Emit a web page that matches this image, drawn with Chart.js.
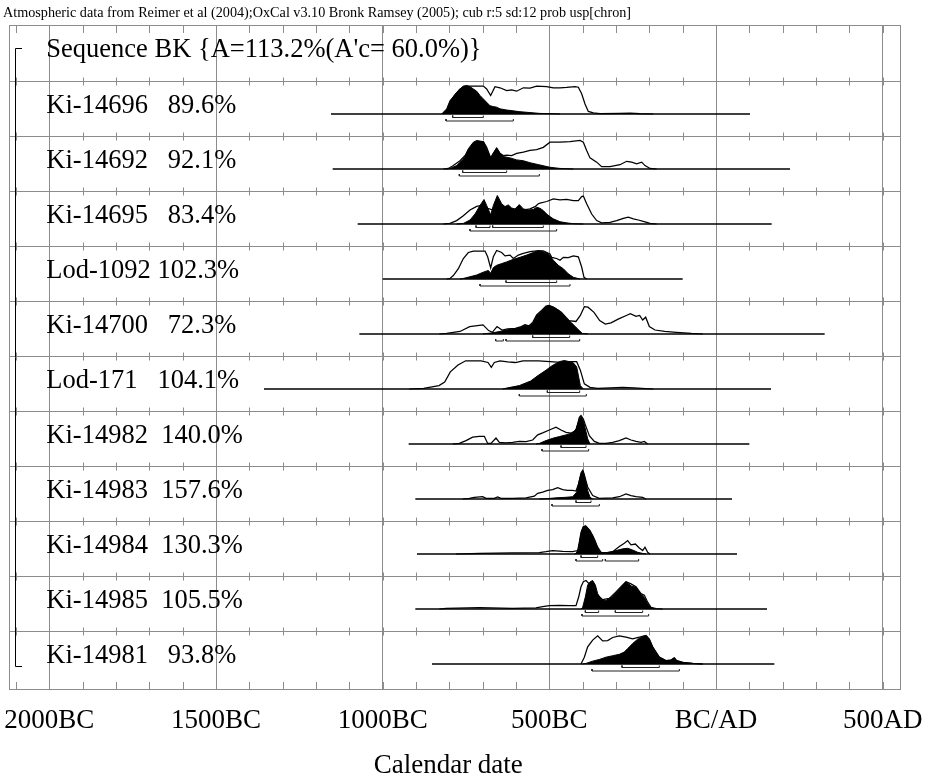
<!DOCTYPE html>
<html>
<head>
<meta charset="utf-8">
<script src="https://cdn.jsdelivr.net/npm/chart.js@4.4.1/dist/chart.umd.min.js"></script>
<style>
  html, body { margin: 0; padding: 0; background: #fff; }
</style>
</head>
<body>
<canvas id="chart" width="929" height="783"></canvas>
<script>
// OxCal multiplot: Sequence BK, calibrated (outline) vs modelled (filled) dates

const headerText = 'Atmospheric data from Reimer et al (2004);OxCal v3.10 Bronk Ramsey (2005); cub r:5 sd:12 prob usp[chron]';
const sequenceLabel = "Sequence BK {A=113.2%(A'c= 60.0%)}";
const sampleLabels = [
  'Ki-14696   89.6%', 'Ki-14692   92.1%', 'Ki-14695   83.4%', 'Lod-1092 102.3%',
  'Ki-14700   72.3%', 'Lod-171   104.1%', 'Ki-14982  140.0%', 'Ki-14983  157.6%',
  'Ki-14984  130.3%', 'Ki-14985  105.5%', 'Ki-14981   93.8%'
];

// horizontal span of each row's axis line (calendar years, BC negative)
const spanStart = [-1155, -1150, -1075, -1000, -1070, -1356, -922, -902, -897, -902, -852];
const spanEnd = [102, 222, 167, -100, 326, 165, 100, 48, 63, 153, 175];

// axis labels
const tickYears = [-2000, -1500, -1000, -500, 0, 500];
const tickLabels = ['2000BC', '1500BC', '1000BC', '500BC', 'BC/AD', '500AD'];

// unmodelled (outline) distributions: [year, relative probability]
const prior14696 = [[-818,0],[-803,0.18],[-788,0.59],[-768,0.88],[-748,0.98],[-698,0.98],[-688,0.88],[-676,0.65],[-663,0.96],[-648,0.92],[-628,0.82],[-613,0.85],[-598,0.80],[-578,0.92],[-558,0.91],[-538,0.98],[-508,0.96],[-488,0.92],[-468,0.92],[-448,0.93],[-423,0.96],[-413,0.94],[-403,0.71],[-393,0.35],[-383,0.09],[-368,0.04],[-348,0.01],[-288,0.02],[-258,0.03],[-228,0.01],[-188,0]];
const prior14692 = [[-818,0],[-803,0.02],[-788,0.12],[-768,0.29],[-748,0.53],[-728,0.86],[-718,0.96],[-698,0.96],[-688,0.76],[-676,0.39],[-668,0.55],[-658,0.73],[-648,0.55],[-638,0.47],[-628,0.49],[-613,0.47],[-598,0.55],[-578,0.59],[-558,0.65],[-538,0.68],[-518,0.76],[-498,0.94],[-468,0.94],[-438,0.96],[-408,1.0],[-398,0.94],[-388,0.65],[-378,0.39],[-358,0.24],[-343,0.08],[-318,0.08],[-288,0.15],[-268,0.27],[-253,0.24],[-238,0.18],[-223,0.24],[-213,0.12],[-198,0.02],[-178,0]];
const prior14695 = [[-818,0],[-798,0.02],[-778,0.12],[-758,0.29],[-738,0.49],[-718,0.62],[-703,0.65],[-688,0.56],[-668,0.49],[-628,0.47],[-588,0.47],[-558,0.53],[-543,0.61],[-533,0.71],[-528,0.73],[-508,0.79],[-488,0.88],[-468,0.85],[-448,0.86],[-428,0.82],[-413,0.82],[-403,0.96],[-398,0.98],[-388,0.71],[-373,0.35],[-358,0.12],[-343,0.04],[-318,0.06],[-298,0.12],[-278,0.20],[-263,0.24],[-248,0.18],[-233,0.14],[-218,0.09],[-208,0.06],[-198,0.02],[-178,0]];
const prior1092 = [[-808,0],[-798,0.02],[-788,0.12],[-773,0.36],[-758,0.72],[-743,0.93],[-728,0.98],[-693,0.98],[-685,0.78],[-676,0.39],[-668,0.78],[-658,1.0],[-643,0.93],[-633,0.81],[-618,0.84],[-608,0.72],[-593,0.84],[-578,0.90],[-558,0.96],[-538,0.99],[-518,0.99],[-498,0.88],[-493,0.76],[-478,0.72],[-468,0.66],[-458,0.76],[-443,0.75],[-428,0.81],[-413,0.78],[-403,0.42],[-396,0.06],[-388,0]];
const prior14700 = [[-830,0],[-808,0.02],[-768,0.09],[-739,0.26],[-699,0.32],[-682,0.12],[-671,0.06],[-657,0.26],[-642,0.14],[-625,0.18],[-602,0.20],[-584,0.26],[-573,0.33],[-561,0.29],[-550,0.40],[-538,0.67],[-521,0.85],[-510,0.98],[-501,1.0],[-487,0.94],[-464,0.76],[-441,0.47],[-420,0.44],[-407,0.65],[-395,0.96],[-384,0.94],[-366,0.76],[-349,0.47],[-332,0.35],[-315,0.39],[-292,0.53],[-269,0.65],[-257,0.71],[-240,0.62],[-229,0.65],[-220,0.49],[-211,0.59],[-200,0.26],[-183,0.14],[-154,0.09],[-119,0.06],[-74,0.02],[-39,0]];
const prior171 = [[-920,0],[-877,0.02],[-831,0.12],[-814,0.24],[-797,0.60],[-774,0.84],[-751,0.99],[-705,0.99],[-684,0.93],[-674,0.76],[-665,0.93],[-648,0.99],[-625,0.95],[-602,0.93],[-579,0.99],[-533,0.99],[-498,0.96],[-464,0.93],[-447,0.96],[-418,0.96],[-407,0.66],[-395,0.18],[-378,0.06],[-355,0.02],[-280,0.06],[-246,0.04],[-188,0]];
const prior14982 = [[-790,0],[-770,0.02],[-750,0.12],[-730,0.24],[-710,0.27],[-695,0.27],[-685,0.02],[-675,0.02],[-660,0.21],[-650,0.06],[-630,0.04],[-610,0.06],[-590,0.09],[-570,0.08],[-550,0.14],[-535,0.32],[-520,0.39],[-500,0.49],[-480,0.59],[-465,0.49],[-450,0.41],[-435,0.38],[-420,0.47],[-410,0.94],[-405,1.0],[-398,0.88],[-390,0.61],[-380,0.29],[-365,0.09],[-350,0.02],[-330,0.02],[-310,0.06],[-290,0.12],[-270,0.21],[-255,0.14],[-240,0.09],[-225,0.06],[-215,0.09],[-205,0]];
const prior14983 = [[-760,0],[-740,0.02],[-725,0.06],[-700,0.08],[-690,0.02],[-665,0.02],[-655,0.07],[-645,0.02],[-610,0.02],[-570,0.04],[-545,0.10],[-535,0.20],[-520,0.24],[-505,0.30],[-490,0.33],[-475,0.40],[-460,0.33],[-445,0.30],[-430,0.30],[-420,0.28],[-412,0.54],[-405,0.90],[-400,1.0],[-395,0.84],[-385,0.42],[-370,0.12],[-350,0.02],[-310,0.04],[-290,0.08],[-270,0.18],[-255,0.12],[-240,0.08],[-220,0.06],[-210,0]];
const prior14984 = [[-780,0],[-710,0.02],[-610,0.04],[-530,0.05],[-510,0.08],[-490,0.12],[-460,0.09],[-430,0.08],[-415,0.12],[-410,0.41],[-405,0.76],[-398,0.96],[-390,0.98],[-378,0.82],[-365,0.53],[-355,0.24],[-345,0.06],[-330,0.04],[-310,0.08],[-290,0.26],[-275,0.38],[-265,0.47],[-255,0.32],[-242,0.35],[-230,0.21],[-220,0.12],[-213,0.24],[-205,0.06],[-198,0]];
const prior14985 = [[-830,0],[-810,0.02],[-710,0.05],[-610,0.02],[-540,0.04],[-520,0.08],[-500,0.12],[-470,0.13],[-440,0.12],[-420,0.12],[-412,0.42],[-405,0.78],[-398,0.96],[-390,1.0],[-382,0.90],[-375,0.66],[-360,0.54],[-340,0.33],[-320,0.37],[-300,0.60],[-280,0.84],[-270,0.96],[-255,0.88],[-240,0.78],[-225,0.54],[-215,0.48],[-205,0.24],[-195,0.06],[-180,0.01],[-160,0]];
const prior14981 = [[-405,0],[-395,0.24],[-385,0.60],[-370,0.84],[-355,0.99],[-340,0.81],[-325,0.82],[-310,0.93],[-290,0.99],[-270,0.94],[-250,0.88],[-230,0.94],[-215,0.99],[-210,1.0],[-200,0.87],[-190,0.60],[-180,0.42],[-170,0.24],[-150,0.12],[-135,0.14],[-125,0.22],[-118,0.12],[-100,0.06],[-70,0.02],[-40,0]];

// modelled (filled) distributions: [year, relative probability]
const post14696 = [[-823,0],[-808,0.18],[-798,0.47],[-788,0.61],[-778,0.76],[-768,0.88],[-758,0.98],[-748,1.0],[-738,0.96],[-728,0.88],[-718,0.80],[-708,0.65],[-698,0.53],[-688,0.41],[-678,0.29],[-668,0.26],[-658,0.24],[-648,0.18],[-628,0.14],[-608,0.11],[-588,0.08],[-558,0.05],[-528,0.02],[-488,0.01],[-468,0]];
const post14692 = [[-808,0],[-798,0.02],[-778,0.12],[-758,0.35],[-743,0.71],[-728,0.94],[-718,1.0],[-708,0.98],[-698,0.96],[-688,0.71],[-676,0.39],[-666,0.59],[-658,0.74],[-648,0.55],[-638,0.44],[-618,0.39],[-598,0.32],[-578,0.29],[-558,0.22],[-528,0.14],[-498,0.06],[-468,0.02],[-428,0]];
const post14695 = [[-778,0],[-758,0.02],[-738,0.14],[-723,0.35],[-708,0.65],[-696,0.86],[-688,0.65],[-676,0.32],[-668,0.65],[-656,1.0],[-643,0.71],[-633,0.61],[-623,0.67],[-613,0.56],[-603,0.53],[-590,0.68],[-578,0.53],[-563,0.49],[-548,0.51],[-538,0.59],[-528,0.55],[-518,0.47],[-508,0.35],[-498,0.26],[-488,0.18],[-468,0.08],[-448,0.04],[-428,0.01],[-398,0]];
const post1092 = [[-768,0],[-758,0.02],[-738,0.08],[-718,0.14],[-698,0.24],[-683,0.30],[-676,0.20],[-668,0.40],[-658,0.48],[-643,0.54],[-628,0.60],[-608,0.69],[-588,0.76],[-568,0.84],[-548,0.93],[-533,1.0],[-518,0.96],[-503,0.88],[-488,0.66],[-473,0.48],[-458,0.36],[-443,0.18],[-428,0.06],[-408,0]];
const post14700 = [[-700,0],[-693,0.01],[-671,0.04],[-648,0.09],[-625,0.15],[-602,0.18],[-584,0.24],[-573,0.31],[-561,0.26],[-550,0.38],[-538,0.65],[-521,0.82],[-510,0.96],[-501,1.0],[-487,0.94],[-470,0.82],[-452,0.59],[-435,0.41],[-418,0.21],[-401,0.02],[-384,0]];
const post171 = [[-640,0],[-625,0.04],[-590,0.12],[-556,0.28],[-533,0.48],[-510,0.66],[-493,0.81],[-470,0.96],[-455,1.0],[-429,0.93],[-418,0.78],[-412,0.42],[-407,0.12],[-398,0]];
const post14982 = [[-540,0],[-530,0.02],[-510,0.12],[-490,0.20],[-470,0.26],[-450,0.32],[-430,0.39],[-420,0.53],[-410,0.88],[-405,0.98],[-398,0.82],[-392,0.53],[-385,0.18],[-378,0]];
const post14983 = [[-530,0],[-510,0.01],[-480,0.04],[-450,0.06],[-430,0.08],[-418,0.24],[-410,0.66],[-403,0.96],[-398,0.99],[-392,0.66],[-385,0.30],[-378,0.06],[-370,0]];
const post14984 = [[-425,0],[-420,0.02],[-413,0.18],[-407,0.59],[-400,0.92],[-392,1.0],[-382,0.88],[-370,0.65],[-360,0.35],[-350,0.09],[-340,0.04],[-320,0.06],[-300,0.12],[-280,0.18],[-265,0.20],[-250,0.14],[-235,0.06],[-220,0.02],[-210,0]];
const post14985 = [[-405,0],[-400,0.06],[-392,0.42],[-385,0.84],[-377,0.96],[-370,1.0],[-362,0.84],[-355,0.54],[-345,0.33],[-330,0.30],[-310,0.45],[-290,0.69],[-270,0.96],[-255,0.81],[-240,0.76],[-225,0.52],[-215,0.40],[-205,0.18],[-195,0.04],[-185,0]];
const post14981 = [[-400,0],[-390,0.02],[-370,0.10],[-350,0.16],[-330,0.24],[-310,0.29],[-290,0.34],[-275,0.42],[-265,0.54],[-250,0.72],[-235,0.87],[-220,0.96],[-210,1.0],[-200,0.87],[-190,0.60],[-180,0.42],[-170,0.24],[-150,0.12],[-135,0.14],[-125,0.22],[-118,0.12],[-100,0.06],[-70,0.02],[-40,0]];

// highest posterior density ranges
const range68 = [
  [[-790, -698]], [[-760, -628]], [[-720, -678], [-670, -518]], [[-630, -478]],
  [[-550, -439]], [[-506, -409]], [[-465, -390]], [[-420, -375]],
  [[-405, -355]], [[-392, -352], [-302, -220]], [[-282, -170]]
];
const range95 = [
  [[-810, -608]], [[-770, -530]], [[-738, -478]], [[-708, -438]],
  [[-661, -638], [-630, -409]], [[-590, -389]], [[-522, -382]], [[-492, -350]],
  [[-420, -340], [-332, -232]], [[-402, -202]], [[-372, -110]]
];

const priors = [prior14696, prior14692, prior14695, prior1092, prior14700, prior171, prior14982, prior14983, prior14984, prior14985, prior14981];
const posts = [post14696, post14692, post14695, post1092, post14700, post171, post14982, post14983, post14984, post14985, post14981];

// layout in pixels (y axis counts pixels down from the top of the frame)
const titleRowH = 56, rowH = 55, baseOffset = 33, peakH = 28.5;
const frameH = 665;
const gridGrey = '#8c8c8c';
const serif = '"Liberation Serif", "Times New Roman", serif';

const rowBase = i => titleRowH + rowH * i + baseOffset;
const toPoints = (arr, base) => arr.map(([yr, p]) => ({ x: yr, y: base - p * peakH }));

const datasets = [];
sampleLabels.forEach((_, i) => {
  const base = rowBase(i);
  datasets.push({
    data: toPoints(posts[i], base),
    borderColor: '#000', borderWidth: 1, backgroundColor: '#000',
    fill: { value: base }
  });
  datasets.push({
    data: toPoints(priors[i], base),
    borderColor: '#000', borderWidth: 1.25, fill: false
  });
  datasets.push({
    data: [{ x: spanStart[i], y: base }, { x: spanEnd[i], y: base }],
    borderColor: '#000', borderWidth: 1.6, fill: false
  });
  [[range68[i], 3.5], [range95[i], 7]].forEach(([ranges, drop]) => {
    ranges.forEach(([a, b]) => {
      datasets.push({
        data: [{ x: a, y: base + drop - 2 }, { x: a, y: base + drop }, { x: b, y: base + drop }, { x: b, y: base + drop - 2 }],
        borderColor: '#222', borderWidth: 1, fill: false
      });
    });
  });
});

const oxcalFrame = {
  id: 'oxcalFrame',
  beforeDatasetsDraw(chart) {
    const { ctx, chartArea: a, scales: { x, y } } = chart;
    ctx.save();
    ctx.strokeStyle = gridGrey;
    ctx.lineWidth = 1;
    const minorXs = [];
    for (let yr = -2100; yr <= 500; yr += 100) minorXs.push(Math.round(x.getPixelForValue(yr)) + 0.5);
    ctx.beginPath();
    // row separators with century ticks
    for (let i = 0; i <= sampleLabels.length - 1; i++) {
      const py = Math.round(y.getPixelForValue(titleRowH + rowH * i)) + 0.5;
      ctx.moveTo(a.left, py); ctx.lineTo(a.right, py);
      minorXs.forEach(px => { ctx.moveTo(px, py - 4); ctx.lineTo(px, py + 4); });
    }
    // ticks hanging from the top and standing on the bottom
    minorXs.forEach(px => {
      ctx.moveTo(px, a.top); ctx.lineTo(px, a.top + 8);
      ctx.moveTo(px, a.bottom); ctx.lineTo(px, a.bottom - 8);
    });
    ctx.stroke();
    ctx.strokeRect(a.left + 0.5, a.top + 0.5, a.right - a.left - 1, a.bottom - a.top - 1);
    ctx.restore();
  },
  afterDatasetsDraw(chart) {
    const { ctx, chartArea: a, scales: { x, y } } = chart;
    ctx.save();
    ctx.fillStyle = '#000';
    ctx.textBaseline = 'alphabetic';
    const textX = x.getPixelForValue(-2000) - 3;
    ctx.font = '26.5px ' + serif;
    ctx.fillText(sequenceLabel, textX, y.getPixelForValue(baseOffset - 1));
    sampleLabels.forEach((lab, i) => {
      ctx.fillText(lab, textX, y.getPixelForValue(rowBase(i) - 1));
    });
    // sequence bracket
    ctx.strokeStyle = '#000';
    ctx.lineWidth = 1;
    const bx = a.left + 6.5, top = y.getPixelForValue(23) + 0.5, bottom = y.getPixelForValue(rowBase(sampleLabels.length - 1) + 2) + 0.5;
    ctx.beginPath();
    ctx.moveTo(a.left + 13, top); ctx.lineTo(bx, top); ctx.lineTo(bx, bottom); ctx.lineTo(a.left + 13, bottom);
    ctx.stroke();
    // header line above the frame
    ctx.font = '14.2px ' + serif;
    ctx.fillText(headerText, 3, 17);
    ctx.restore();
  }
};

new Chart(document.getElementById('chart'), {
  type: 'line',
  data: { datasets },
  options: {
    responsive: false,
    animation: false,
    events: [],
    layout: { padding: { left: 9, right: 28, top: 25, bottom: 0 } },
    elements: { point: { radius: 0 }, line: { tension: 0 } },
    plugins: { legend: { display: false }, tooltip: { enabled: false } },
    scales: {
      x: {
        type: 'linear', min: -2121, max: 555,
        afterBuildTicks: scale => { scale.ticks = tickYears.map(v => ({ value: v })); },
        afterFit: scale => { scale.height = 93; scale.paddingLeft = 0; scale.paddingRight = 0; },
        grid: { color: gridGrey, lineWidth: 1, drawTicks: false },
        border: { display: false },
        ticks: {
          autoSkip: false, maxRotation: 0, padding: 15,
          color: '#000', font: { family: serif, size: 27 },
          callback: v => tickLabels[tickYears.indexOf(v)]
        },
        title: {
          display: true, text: 'Calendar date  ', color: '#000',
          font: { family: serif, size: 27 }, padding: { top: 0, bottom: 1 }
        }
      },
      y: { display: false, reverse: true, min: 0, max: frameH }
    }
  },
  plugins: [oxcalFrame]
});
</script>
</body>
</html>
